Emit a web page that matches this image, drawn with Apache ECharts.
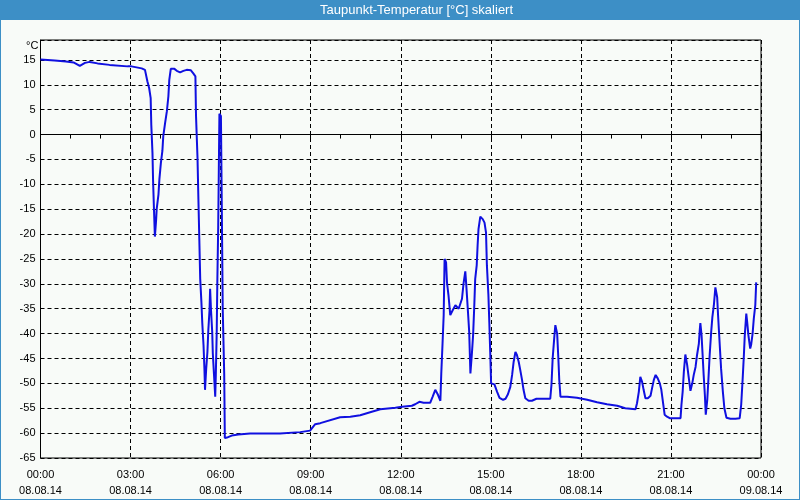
<!DOCTYPE html>
<html>
<head>
<meta charset="utf-8">
<script src="https://cdn.jsdelivr.net/npm/echarts@6/dist/echarts.min.js"></script>
<style>
html,body{margin:0;padding:0;background:#3d8fc6;}
#frame{position:absolute;left:0;top:0;width:800px;height:500px;box-sizing:border-box;border:1px solid #3d8fc6;background:#f8fbf8;}
#chart{width:798px;height:498px;}
</style>
</head>
<body>
<div id="frame"><div id="chart"></div></div>
<script>
// Time of day in hours (08.08.14 00:00 = 0)
var hours = [
0.00,0.47,0.85,1.10,1.31,1.48,1.64,1.90,2.30,2.90,3.03,3.37,3.48,3.56,3.62,3.67,3.69,3.73,3.75,3.78,
3.81,3.85,3.87,3.93,3.96,4.01,4.06,4.09,4.15,4.21,4.26,4.29,4.34,4.46,4.54,4.65,4.76,4.87,5.01,5.09,
5.16,5.18,5.23,5.26,5.29,5.32,5.36,5.39,5.43,5.46,5.48,5.52,5.56,5.59,5.63,5.65,5.68,5.72,5.74,5.78,
5.82,5.84,5.87,5.89,5.92,5.94,5.96,6.01,6.03,6.05,6.07,6.12,6.14,6.21,6.37,6.59,6.98,7.98,8.65,8.98,
9.15,9.32,9.98,10.32,10.65,10.98,11.32,11.82,12.04,12.37,12.48,12.62,12.76,12.98,13.06,13.15,13.24,13.32,13.35,13.39,
13.43,13.46,13.51,13.54,13.59,13.65,13.73,13.82,13.93,13.98,14.04,14.09,14.15,14.18,14.24,14.28,14.32,14.37,14.41,14.45,
14.48,14.53,14.56,14.59,14.65,14.73,14.79,14.84,14.87,14.92,14.95,14.98,15.01,15.12,15.21,15.29,15.41,15.49,15.57,15.65,
15.71,15.76,15.82,15.87,15.93,15.98,16.04,16.09,16.15,16.26,16.37,16.52,16.98,17.02,17.06,17.12,17.15,17.21,17.25,17.28,
17.32,17.54,17.87,18.21,18.54,18.87,19.21,19.48,19.65,19.82,19.87,19.93,19.98,20.04,20.09,20.15,20.23,20.32,20.37,20.43,
20.49,20.56,20.63,20.68,20.74,20.79,20.87,20.96,21.32,21.35,21.39,21.43,21.48,21.54,21.59,21.65,21.71,21.76,21.82,21.87,
21.93,21.96,21.98,22.02,22.05,22.09,22.13,22.16,22.21,22.25,22.29,22.34,22.38,22.43,22.48,22.54,22.57,22.62,22.67,22.73,
22.78,22.85,22.98,23.15,23.29,23.34,23.39,23.43,23.46,23.51,23.54,23.58,23.64,23.67,23.72,23.76,23.81,23.84
];
// Dew point temperature [°C]
var dewPoint = [
15.1,14.9,14.7,14.5,13.8,14.4,14.6,14.3,14.0,13.7,13.7,13.3,13.0,10.7,9.3,7.3,2.0,-3.7,-9.3,-15.0,
-20.5,-17.3,-15.0,-12.0,-9.0,-5.7,-3.3,-0.3,2.3,4.7,7.7,11.0,13.2,13.2,12.8,12.5,12.8,13.0,12.9,12.3,
11.7,3.8,-4.7,-13.0,-21.0,-29.0,-33.7,-38.0,-42.3,-47.0,-51.3,-47.0,-43.7,-39.3,-35.3,-31.0,-35.3,-39.7,-44.0,-48.3,
-52.7,-48.3,-39.7,-29.7,-18.3,-7.0,4.2,3.7,-9.0,-21.7,-35.0,-48.3,-61.0,-60.9,-60.5,-60.3,-60.1,-60.1,-59.8,-59.5,
-58.2,-58.0,-56.8,-56.7,-56.4,-55.8,-55.2,-54.9,-54.7,-54.5,-54.2,-53.7,-53.9,-53.9,-52.7,-51.3,-52.3,-53.5,-48.0,-42.3,
-36.3,-25.0,-25.7,-29.7,-32.3,-36.3,-35.3,-34.3,-35.0,-35.3,-33.0,-30.0,-27.5,-30.0,-35.7,-39.7,-48.0,-44.0,-40.3,-34.3,
-29.0,-26.3,-22.3,-19.0,-16.5,-17.0,-17.7,-19.7,-26.3,-32.3,-37.7,-43.7,-50.0,-50.2,-51.7,-52.9,-53.3,-53.1,-52.2,-50.7,
-48.3,-45.7,-43.7,-44.3,-45.7,-47.3,-49.3,-51.3,-53.0,-53.5,-53.5,-53.1,-53.1,-50.3,-45.0,-40.3,-38.3,-40.0,-45.0,-49.3,
-52.7,-52.7,-52.9,-53.3,-53.8,-54.2,-54.5,-55.0,-55.1,-55.2,-54.0,-51.7,-48.7,-49.7,-51.3,-53.0,-53.0,-52.5,-51.0,-49.3,
-48.3,-49.0,-50.0,-51.3,-54.0,-56.3,-56.7,-57.0,-57.0,-54.3,-51.7,-47.7,-44.2,-46.3,-48.7,-51.5,-50.0,-48.3,-46.7,-44.3,
-42.0,-39.3,-37.9,-40.3,-43.7,-48.3,-52.3,-56.3,-53.3,-49.0,-44.3,-39.7,-36.7,-34.3,-30.7,-32.7,-36.3,-41.7,-47.0,-51.7,
-55.0,-56.9,-57.1,-57.1,-57.0,-54.3,-49.0,-44.3,-40.3,-36.0,-37.7,-40.3,-43.0,-42.3,-40.0,-37.0,-34.3,-29.7
];
var timeLabels = ['00:00','03:00','06:00','09:00','12:00','15:00','18:00','21:00','00:00'];
var dateLabels = ['08.08.14','08.08.14','08.08.14','08.08.14','08.08.14','08.08.14','08.08.14','08.08.14','09.08.14'];
var titleText = 'Taupunkt-Temperatur [°C] skaliert';
var unitText = '°C';

var seriesData = hours.map(function(h, i){ return [h, dewPoint[i]]; });
var font = 'Liberation Sans, Arial, sans-serif';
var chart = echarts.init(document.getElementById('chart'), null, {renderer:'canvas'});
chart.setOption({
  animation: false,
  backgroundColor: '#f8fbf8',
  title: {
    text: titleText,
    left: 319, top: 3, padding: 0,
    textStyle: {color:'#ffffff', fontSize: 13, fontWeight: 'normal', fontFamily: font}
  },
  graphic: [
    {type:'rect', left:-1, top:-1, z:-1, shape:{width:800, height:20}, style:{fill:'#3d8fc6'}},
    {type:'text', left:25, top:39, style:{text: unitText, fill:'#000', font:'11px ' + font}}
  ],
  grid: {left: 39.5, right: 38, top: 39, bottom: 39, show: true, borderColor:'#000', borderWidth:1, backgroundColor:'transparent'},
  xAxis: {
    type: 'value', min: 0, max: 24, interval: 3,
    axisLine: {show:true, lineStyle:{color:'#000', width:1}},
    axisTick: {show:true, length:4, lineStyle:{color:'#000'}},
    minorTick: {show:true, splitNumber:3, length:4, lineStyle:{color:'#000'}},
    splitLine: {show:true, lineStyle:{color:'#000', type:[4,3], width:1}},
    axisLabel: {
      color:'#000', fontSize: 11, fontFamily: font, margin: 9, lineHeight: 16,
      showMinLabel: true, showMaxLabel: true,
      formatter: function(v){ var i = Math.round(v/3); return timeLabels[i] + '\n' + dateLabels[i]; }
    }
  },
  yAxis: {
    type: 'value', min: -65, max: 19, interval: 5,
    axisLine: {show:true, onZero:false, lineStyle:{color:'#000', width:1}},
    axisTick: {show:false},
    splitLine: {show:true, lineStyle:{color:'#000', type:[4,3], width:1}},
    axisLabel: {color:'#000', fontSize: 11, fontFamily: font, margin: 5, showMaxLabel: false}
  },
  series: [{
    type: 'line', data: seriesData, showSymbol: false, symbol: 'none',
    lineStyle: {color:'#1010e0', width: 2}, itemStyle:{color:'#1010e0'}
  }]
});
</script>
</body>
</html>
